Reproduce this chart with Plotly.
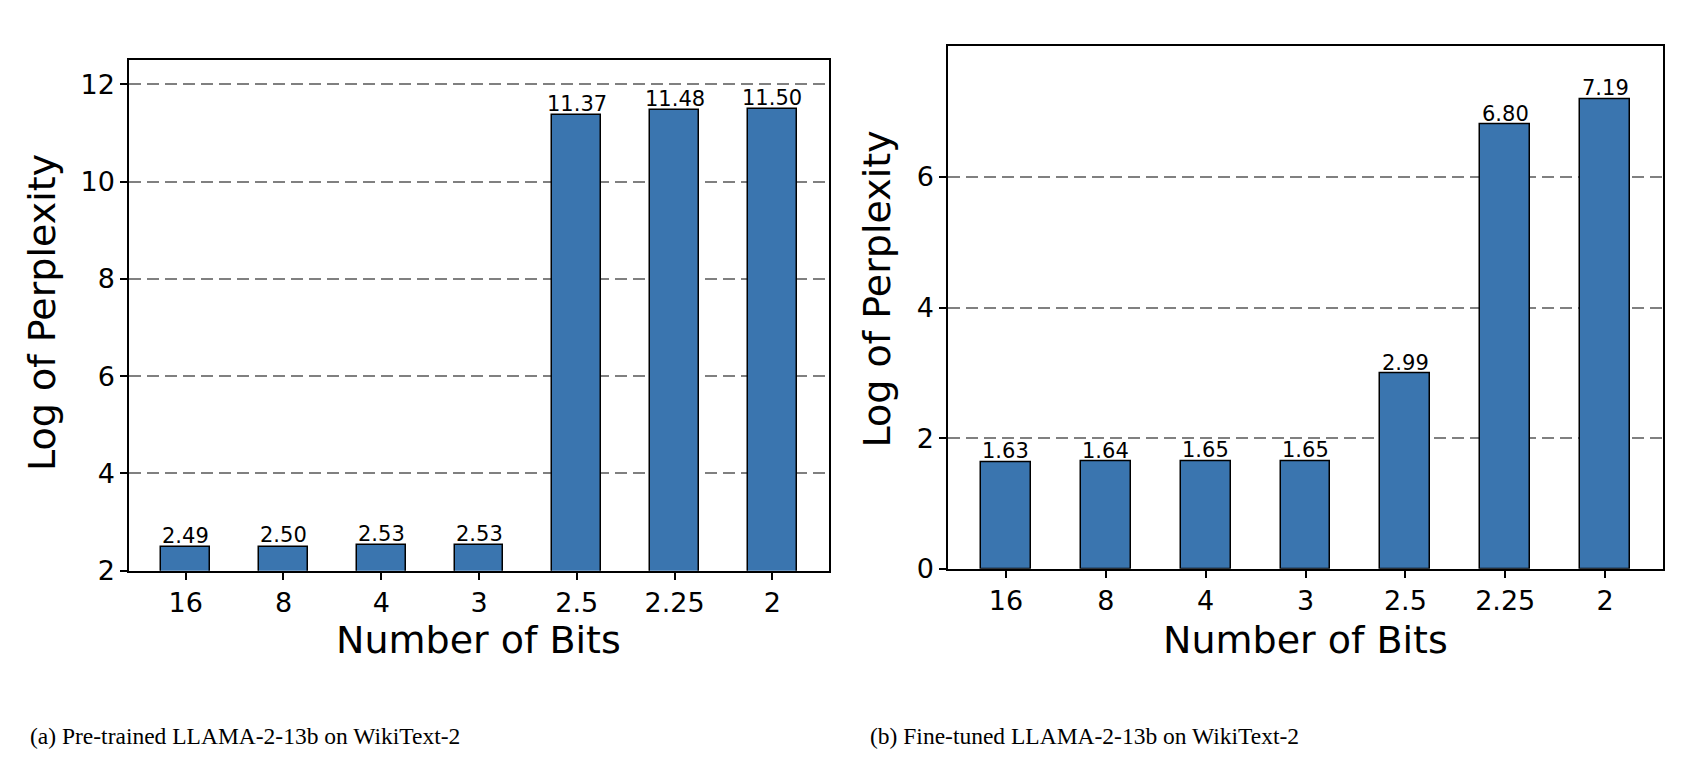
import plotly.graph_objects as go

bits = ["16", "8", "4", "3", "2.5", "2.25", "2"]
pretrained = [2.49, 2.50, 2.53, 2.53, 11.37, 11.48, 11.50]
finetuned = [1.63, 1.64, 1.65, 1.65, 2.99, 6.80, 7.19]
captions = ["(a) Pre-trained LLAMA-2-13b on WikiText-2",
            "(b) Fine-tuned LLAMA-2-13b on WikiText-2"]

BAR = "#3a75af"
FONT = "DejaVu Sans"

fig = go.Figure()
ann = []
for vals, xa, ya in [(pretrained, "x", "y"), (finetuned, "x2", "y2")]:
    xs = list(range(len(bits)))
    fig.add_trace(go.Bar(
        x=xs, y=vals, width=0.5,
        marker=dict(color=BAR, line=dict(color="black", width=1.5)),
        xaxis=xa, yaxis=ya, showlegend=False,
    ))
    for xi, v in zip(xs, vals):
        ann.append(dict(x=xi, y=v, xref=xa, yref=ya, text=f"{v:.2f}",
                        showarrow=False, xanchor="center", yanchor="bottom",
                        yshift=-3,
                        font=dict(family=FONT, size=21, color="black")))

axis_common = dict(
    showline=True, linecolor="black", linewidth=1.5, mirror=True,
    ticks="outside", ticklen=7, tickwidth=1.5, tickcolor="black",
    tickfont=dict(family=FONT, size=27, color="black"),
    zeroline=False,
)
xcommon = dict(axis_common, tickmode="array", tickvals=list(range(len(bits))),
               ticktext=bits, showgrid=False, range=[-0.58, 6.58])
ycommon = dict(axis_common, showgrid=True, gridcolor="#808080", gridwidth=2,
               griddash="12px,6px")

fig.update_layout(
    width=1688, height=768,
    margin=dict(l=0, r=0, t=0, b=0),
    paper_bgcolor="white", plot_bgcolor="white",
    bargap=0,
    xaxis=dict(xcommon, domain=[121/1688, 821/1688], anchor="y"),
    yaxis=dict(ycommon, domain=[1-574/768, 1-53/768], anchor="x",
               range=[2, 12.5], tickvals=[2, 4, 6, 8, 10, 12]),
    xaxis2=dict(xcommon, domain=[940/1688, 1655/1688], anchor="y2"),
    yaxis2=dict(ycommon, domain=[1-572/768, 1-39/768], anchor="x2",
                range=[0, 8.0], tickvals=[0, 2, 4, 6]),
)

# axis titles
for xc in [471, 1297]:
    ann.append(dict(x=xc/1688, y=1-645/768, xref="paper", yref="paper",
                    text="Number of Bits", showarrow=False,
                    font=dict(family=FONT, size=38, color="black"),
                    xanchor="center", yanchor="middle"))
for xc, yc in [(34, 311), (869, 286)]:
    ann.append(dict(x=xc/1688, y=1-yc/768, xref="paper", yref="paper",
                    text="Log of Perplexity", showarrow=False, textangle=-90,
                    font=dict(family=FONT, size=38, color="black"),
                    xanchor="center", yanchor="middle"))
# captions
for cap, xl in zip(captions, [20, 860]):
    ann.append(dict(x=xl/1688, y=1-742/768, xref="paper", yref="paper",
                    text=cap, showarrow=False,
                    font=dict(family="Liberation Serif", size=23.5, color="black"),
                    xanchor="left", yanchor="middle"))
fig.update_layout(annotations=ann)

fig.write_html("out.html")
